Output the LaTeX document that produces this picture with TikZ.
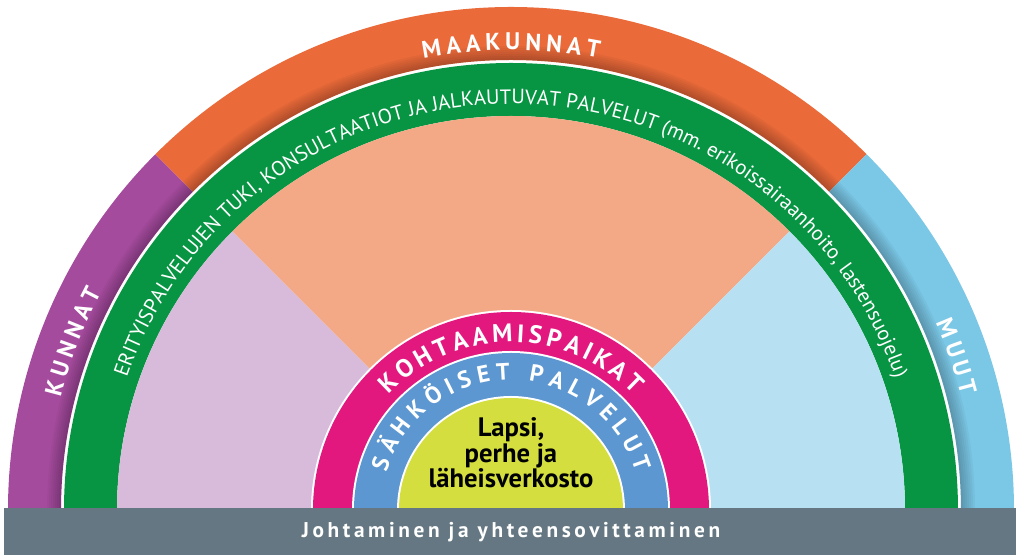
\documentclass[tikz,border=0pt]{standalone}
\usepackage{fontspec}
\setmainfont{PT Sans}
\usepackage{xcolor}
\usetikzlibrary{decorations.text}

\definecolor{kunnat}{HTML}{A54B9E}
\definecolor{maakunnat}{HTML}{EA6A3A}
\definecolor{muut}{HTML}{7BC7E6}
\definecolor{erity}{HTML}{079543}
\definecolor{lavender}{HTML}{D8BADB}
\definecolor{peach}{HTML}{F4A986}
\definecolor{paleblue}{HTML}{B7E0F3}
\definecolor{kohtaam}{HTML}{E2187F}
\definecolor{sahkoiset}{HTML}{5C97D1}
\definecolor{lapsi}{HTML}{D4DE3F}
\definecolor{johto}{HTML}{647782}

\newcommand\bigring{\bfseries\fontsize{18}{18}\selectfont\fontdimen2\font=3.6pt\relax}
\newcommand\greenring{\fontsize{15.5}{15.5}\selectfont}
\newcommand\kohfont{\bfseries\fontsize{19}{19}\selectfont\fontdimen2\font=3pt\relax}
\newcommand\sahfont{\bfseries\fontsize{17.8}{17.8}\selectfont\fontdimen2\font=4.4pt\relax}

\tikzset{
  ringtext/.style={decorate, decoration={text along path, text align=center, text color=white, text={#1}}}
}

\begin{document}
\begin{tikzpicture}[x=0.75pt,y=0.75pt]
\useasboundingbox (-511,-45) rectangle (513,510);

%Shape: outer ring, Kunnat
\fill[kunnat] (180:503) arc[start angle=180, end angle=135, radius=503] -- (135:450) arc[start angle=135, end angle=180, radius=450] -- cycle;
%Shape: outer ring, Maakunnat
\fill[maakunnat] (135:503) arc[start angle=135, end angle=45, radius=503] -- (45:450) arc[start angle=45, end angle=135, radius=450] -- cycle;
%Shape: outer ring, Muut
\fill[muut] (45:503) arc[start angle=45, end angle=0, radius=503] -- (0:450) arc[start angle=0, end angle=45, radius=450] -- cycle;
%shadow on the inner edge of the outer ring
\foreach \r in {452,454,...,464}
  \fill[black, opacity=0.035] (180:\r) arc[start angle=180, end angle=0, radius=\r] -- (0:450) arc[start angle=0, end angle=180, radius=450] -- cycle;
%Shape: green ring
\fill[erity] (180:447) arc[start angle=180, end angle=0, radius=447] -- (0:394) arc[start angle=0, end angle=180, radius=394] -- cycle;

%Shape: inner sectors
\fill[lavender] (0,0) -- (180:394) arc[start angle=180, end angle=135, radius=394] -- cycle;
\fill[peach] (0,0) -- (135:394) arc[start angle=135, end angle=45, radius=394] -- cycle;
\fill[paleblue] (0,0) -- (45:394) arc[start angle=45, end angle=0, radius=394] -- cycle;

%Shape: centre half discs
\fill[white] (200,0) arc[start angle=0, end angle=180, radius=200] -- cycle;
\fill[kohtaam] (198,0) arc[start angle=0, end angle=180, radius=198] -- cycle;
\fill[white] (159,0) arc[start angle=0, end angle=180, radius=159] -- cycle;
\fill[sahkoiset] (157,0) arc[start angle=0, end angle=180, radius=157] -- cycle;
\fill[white] (114,0) arc[start angle=0, end angle=180, radius=114] -- cycle;
\fill[lapsi] (112,0) arc[start angle=0, end angle=180, radius=112] -- cycle;

%Shape: bottom bar
\fill[johto] (-507,-45) rectangle (505,2);

% Curved texts
\path[ringtext={|\bigring|M A A K U N N A T}] (180:460) arc[start angle=180, end angle=0, radius=460];
\path[ringtext={|\bigring|K U N N A T}] (200:464) arc[start angle=200, end angle=118, radius=464];
\path[ringtext={|\bigring|M U U T}] (60:464) arc[start angle=60, end angle=-22, radius=464];
\path[ringtext={|\greenring|ERITYISPALVELUJEN TUKI, KONSULTAATIOT JA JALKAUTUVAT PALVELUT (mm. erikoissairaanhoito, lastensuojelu)}] (180:406) arc[start angle=180, end angle=0, radius=406];
\path[ringtext={|\kohfont|K O H T A A M I S P A I K A T}] (180:168) arc[start angle=180, end angle=0, radius=168];
\path[ringtext={|\sahfont|S Ä H K Ö I S E T {\hspace{5pt}} P A L V E L U T}] (180:130) arc[start angle=180, end angle=0, radius=130];

% Text Node
\node[align=center, font=\bfseries\fontsize{20}{19}\selectfont, text=black] (lapsiteksti) at (0,57) {Lapsi,\\perhe ja\\läheisverkosto};
% Text Node
\node[anchor=base, text=white, font=\bfseries\fontsize{16}{16}\selectfont\addfontfeature{LetterSpace=17}] (johtoteksti) at (0,-28) {Johtaminen ja yhteensovittaminen};

\end{tikzpicture}
\end{document}
